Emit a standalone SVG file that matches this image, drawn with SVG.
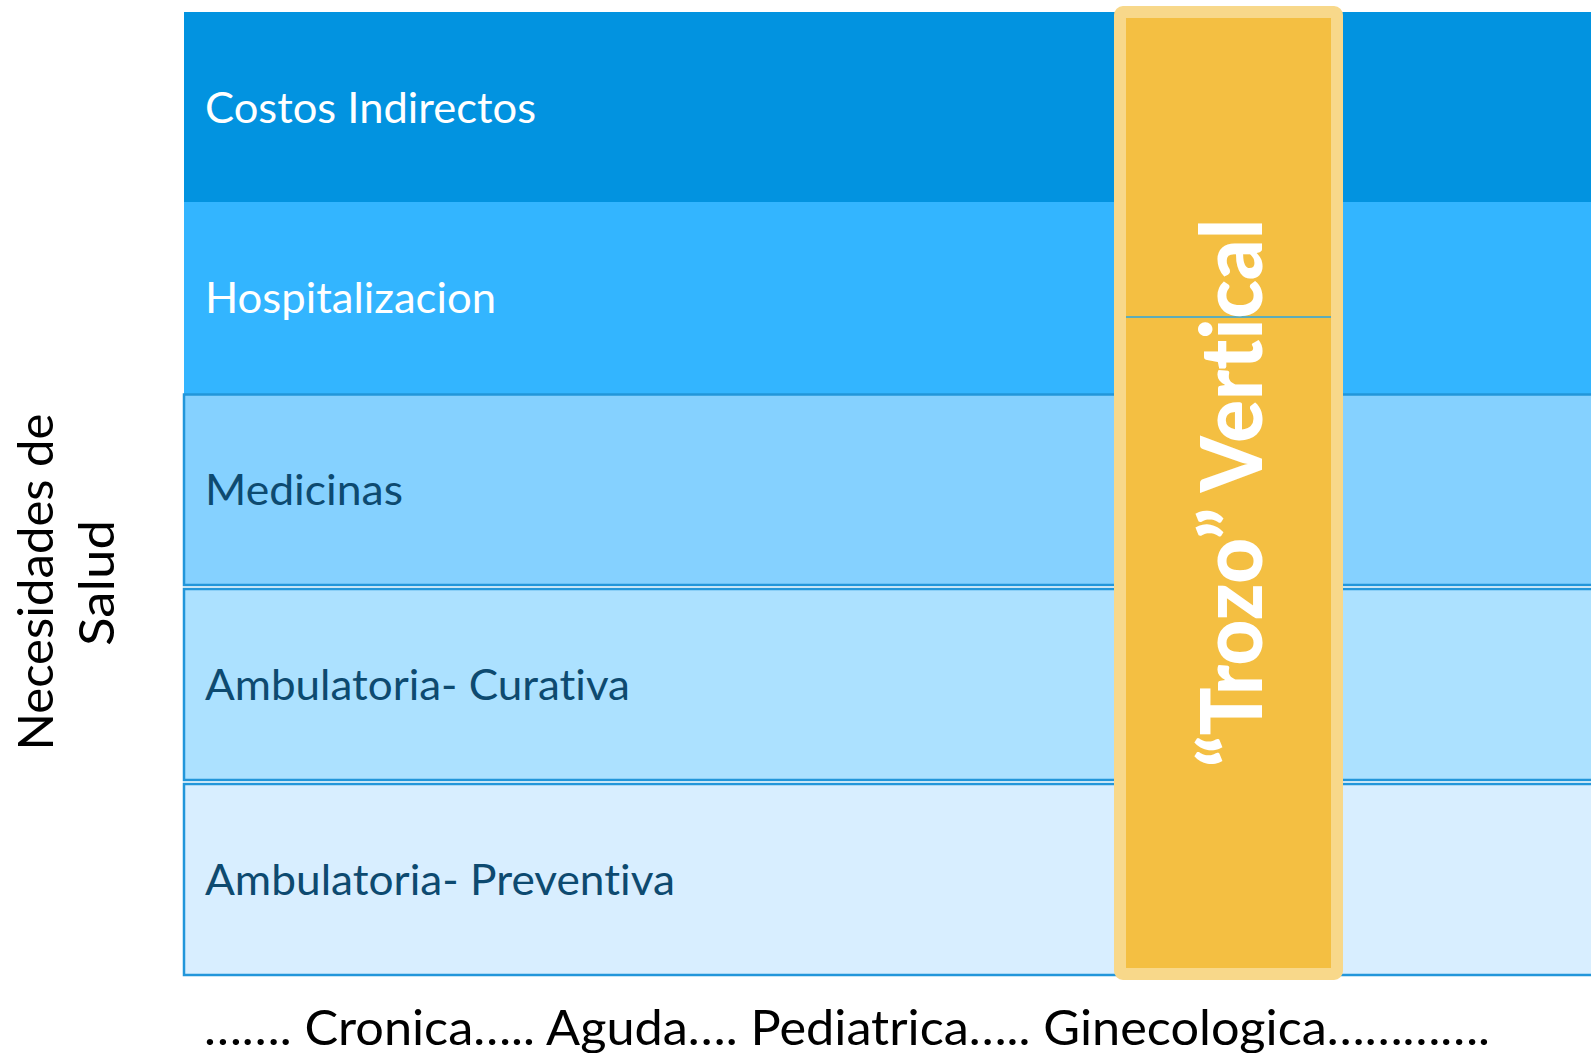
<svg xmlns="http://www.w3.org/2000/svg" width="1591" height="1053" viewBox="0 0 1591 1053">
<style>
text{font-variant-ligatures:none;font-feature-settings:"liga" 0}
.lbl{font-family:Lato,"Liberation Sans",sans-serif;font-size:43px}
.w{fill:#ffffff}
.d{fill:#0D4A70}
.bd{stroke:#2296DA;stroke-width:2.5}
.ax{font-family:Lato,"Liberation Sans",sans-serif;font-size:48px;fill:#000000}
</style>
<rect width="1591" height="1053" fill="#ffffff"/>
<g id="band-costos">
<rect x="184" y="12" width="1420" height="190" fill="#0293E0"/>
<text class="lbl w" x="205" y="123" textLength="331" lengthAdjust="spacingAndGlyphs">Costos Indirectos</text>
</g>
<g id="band-hosp">
<rect x="184" y="202" width="1420" height="192" fill="#33B5FF"/>
<text class="lbl w" x="205" y="313" textLength="291" lengthAdjust="spacingAndGlyphs">Hospitalizacion</text>
</g>
<g id="band-med">
<rect class="bd" x="184" y="394.5" width="1420" height="190.5" fill="#85D1FF"/>
<text class="lbl d" x="205" y="505" textLength="198" lengthAdjust="spacingAndGlyphs">Medicinas</text>
</g>
<g id="band-curativa">
<rect class="bd" x="184" y="589" width="1420" height="191" fill="#ACE1FF"/>
<text class="lbl d" x="205" y="700" textLength="425" lengthAdjust="spacingAndGlyphs">Ambulatoria- Curativa</text>
</g>
<g id="band-preventiva">
<rect class="bd" x="184" y="784" width="1420" height="191" fill="#D8EEFF"/>
<text class="lbl d" x="205" y="895" textLength="470" lengthAdjust="spacingAndGlyphs">Ambulatoria- Preventiva</text>
</g>
<g id="trozo">
<rect x="1120" y="12" width="217" height="962" rx="3" fill="#F4BF42" stroke="#F8D88A" stroke-width="12" stroke-linejoin="round"/>
<line x1="1126" y1="317" x2="1331" y2="317" stroke="#2CA6E0" stroke-width="1.5"/>
<text transform="translate(1262,493) rotate(-90)" text-anchor="middle" font-family="Lato,'Liberation Sans',sans-serif" font-weight="900" font-size="86" fill="#ffffff" textLength="548" lengthAdjust="spacingAndGlyphs">“Trozo” Vertical</text>
</g>
<g id="y-axis-label">
<text class="ax" transform="translate(53,582) rotate(-90)" text-anchor="middle" textLength="337" lengthAdjust="spacingAndGlyphs">Necesidades de</text>
<text class="ax" transform="translate(114,583) rotate(-90)" text-anchor="middle" textLength="126" lengthAdjust="spacingAndGlyphs">Salud</text>
</g>
<g id="x-axis-label">
<text class="ax" x="204" y="1045" textLength="1286" lengthAdjust="spacingAndGlyphs">……. Cronica….. Aguda…. Pediatrica…..  Ginecologica………….</text>
</g>
</svg>
